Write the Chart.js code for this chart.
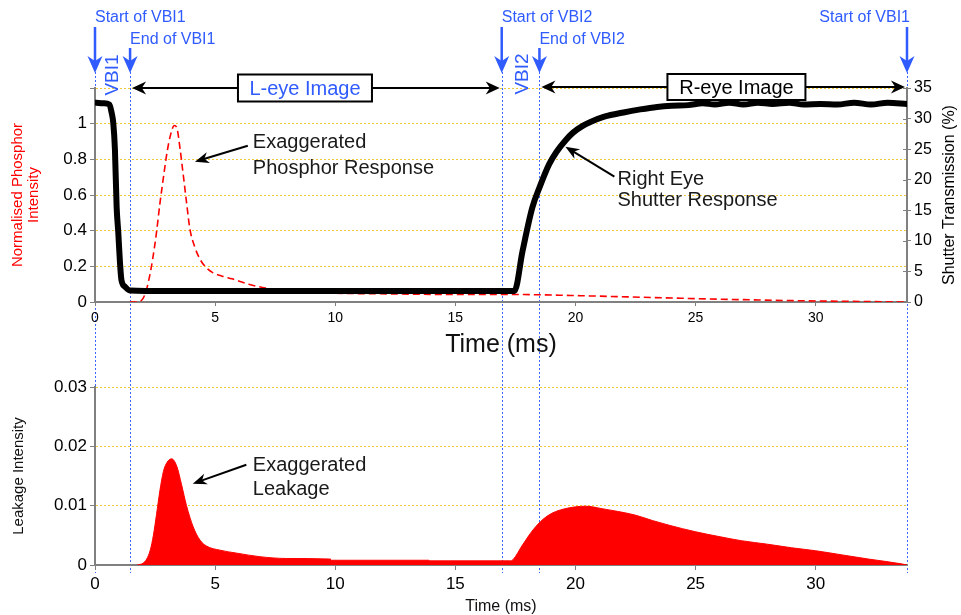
<!DOCTYPE html>
<html>
<head>
<meta charset="utf-8">
<script src="https://cdn.jsdelivr.net/npm/chart.js@4.4.1/dist/chart.umd.min.js"></script>
<style>
  body { margin: 0; background: #fff; }
  #wrap { position: relative; width: 961px; height: 615px; }
  canvas { position: absolute; left: 0; }
</style>
</head>
<body>
<div id="wrap">
  <canvas id="topchart" width="961" height="360" style="top:0"></canvas>
  <canvas id="leakchart" width="961" height="255" style="top:360px"></canvas>
</div>
<script>
// shutter transmission (%), right axis of the top chart
const shutterTime = [0.05, 0.35, 0.6, 0.69, 0.76, 0.83, 0.9, 0.97, 1.04, 1.1, 1.25, 1.45, 3, 6, 9, 12, 15, 17.46,
  17.8, 18.2, 18.5, 18.9, 19.2, 19.6, 19.9, 20.3, 20.6, 21.2, 22.0, 22.7, 23.4, 24.0, 24.7, 25.3, 25.8, 26.4,
  27.0, 27.6, 28.2, 28.9, 29.5, 30.2, 30.9, 31.6, 32.3, 33.0, 33.8]
const shutterPct = [32.6, 32.5, 32.3, 31, 29.3, 24.9, 15.6, 11.3, 6.4, 3.6, 2.5, 1.9, 1.8, 1.8, 1.8, 1.8, 1.8, 1.8,
  8.4, 15.4, 18.7, 22.5, 24.5, 26.5, 27.7, 28.8, 29.4, 30.3, 31.0, 31.5, 31.9, 32.1, 32.2, 32.5, 32.3, 32.6,
  32.3, 32.6, 32.4, 32.6, 32.3, 32.4, 32.3, 32.6, 32.3, 32.6, 32.4]

// normalised phosphor intensity, left axis of the top chart
const phosphorTime = [1.45, 1.7, 1.94, 2.1, 2.25, 2.4, 2.55, 2.7, 2.85, 3.0, 3.15, 3.3, 3.42, 3.53, 3.65, 3.8, 3.95,
  4.15, 4.37, 4.65, 4.9, 5.3, 5.7, 6.4, 7.1, 8.5, 9.9, 12.7, 15.0, 17.4, 20.6, 24.7, 28.9, 33.1, 33.8]
const phosphor = [0, 0, 0.01, 0.05, 0.13, 0.24, 0.38, 0.55, 0.7, 0.84, 0.94, 0.99, 0.97, 0.87, 0.74, 0.57, 0.41,
  0.31, 0.24, 0.19, 0.165, 0.145, 0.13, 0.1, 0.078, 0.06, 0.05, 0.045, 0.042, 0.042, 0.034, 0.02, 0.008, 0.001, 0]

// leakage intensity, bottom chart
const leakTime = [1.75, 2.0, 2.15, 2.3, 2.43, 2.56, 2.7, 2.85, 3.0, 3.19, 3.4, 3.6, 3.81, 4.09, 4.37, 4.64, 5.2, 5.9,
  6.86, 7.97, 9.8, 9.85, 13.9, 13.95, 17.3, 17.4, 17.8, 18.23, 18.65, 19.06, 19.48, 20.0, 20.44, 21.1, 21.8, 22.5,
  23.2, 23.9, 25.0, 25.97, 26.9, 28.0, 29.0, 30.0, 31.1, 32.2, 33.56, 33.8]
const leak = [0, 0.0003, 0.001, 0.0025, 0.005, 0.0085, 0.0125, 0.0158, 0.0173, 0.0179, 0.0167, 0.0136, 0.01, 0.0064,
  0.0042, 0.0032, 0.0025, 0.002, 0.0014, 0.0011, 0.001, 0.0008, 0.0008, 0.0007, 0.0007, 0.0009, 0.0034, 0.0059,
  0.0077, 0.0088, 0.0094, 0.0098, 0.0099, 0.0095, 0.009, 0.0084, 0.0075, 0.0067, 0.0056, 0.0048, 0.0041, 0.0035,
  0.0029, 0.0024, 0.0017, 0.001, 0.0002, 0]

// vertical blanking markers (ms)
const vbiTimes = [0, 1.46, 16.93, 18.5, 33.8]
const vbiLabels = ['Start of VBI1', 'End of VBI1', 'Start of VBI2', 'End of VBI2', 'Start of VBI1']

const FONT = "'Liberation Sans', Arial, sans-serif"
const BLUE = '#2f5bff'
const GRID = '#f0c83a'
const AXIS = '#808080'

Chart.defaults.font.family = FONT
Chart.defaults.color = '#000'

function pts(xs, ys) {
  return xs.map((x, i) => ({ x: x, y: ys[i] }))
}

function arrow(ctx, x1, y1, x2, y2, color, lw, hl, hw) {
  const a = Math.atan2(y2 - y1, x2 - x1)
  ctx.save()
  ctx.strokeStyle = color
  ctx.fillStyle = color
  ctx.lineWidth = lw
  ctx.setLineDash([])
  ctx.beginPath()
  ctx.moveTo(x1, y1)
  ctx.lineTo(x2 - Math.cos(a) * hl * 0.6, y2 - Math.sin(a) * hl * 0.6)
  ctx.stroke()
  ctx.translate(x2, y2)
  ctx.rotate(a)
  ctx.beginPath()
  ctx.moveTo(0, 0)
  ctx.lineTo(-hl, -hw / 2)
  ctx.lineTo(-hl * 0.7, 0)
  ctx.lineTo(-hl, hw / 2)
  ctx.closePath()
  ctx.fill()
  ctx.restore()
}

function text(ctx, str, x, y, size, color, align, rot) {
  ctx.save()
  ctx.font = size + 'px ' + FONT
  ctx.fillStyle = color
  ctx.textAlign = align || 'left'
  ctx.textBaseline = 'middle'
  ctx.translate(x, y)
  if (rot) ctx.rotate(rot)
  ctx.fillText(str, 0, 0)
  ctx.restore()
}

function dottedLines(chart, y1, y2) {
  const ctx = chart.ctx
  const xs = chart.scales.x
  ctx.save()
  ctx.strokeStyle = '#3d66ff'
  ctx.lineWidth = 1
  ctx.setLineDash([2, 2])
  vbiTimes.forEach(t => {
    const px = Math.round(xs.getPixelForValue(t)) + 0.5
    ctx.beginPath()
    ctx.moveTo(px, y1)
    ctx.lineTo(px, y2)
    ctx.stroke()
  })
  ctx.restore()
}

function imageSpan(ctx, xs, from, to, mid, y, str, color, w, h) {
  arrow(ctx, mid, y, xs.getPixelForValue(from) + 2, y, '#000', 2, 14, 13)
  arrow(ctx, mid, y, xs.getPixelForValue(to) - 2, y, '#000', 2, 14, 13)
  ctx.save()
  ctx.fillStyle = '#fff'
  ctx.strokeStyle = '#000'
  ctx.lineWidth = 2
  ctx.fillRect(mid - w / 2, y - h / 2, w, h)
  ctx.strokeRect(mid - w / 2, y - h / 2, w, h)
  ctx.restore()
  text(ctx, str, mid, y + 1, 20, color, 'center')
}

const topNotes = {
  id: 'topNotes',
  beforeDraw(chart) {
    dottedLines(chart, 72, chart.height)
  },
  afterDraw(chart) {
    const ctx = chart.ctx
    const xs = chart.scales.x
    const yl = chart.scales.y
    const yr = chart.scales.y2
    const area = chart.chartArea

    // cross ticks on the right axis
    ctx.save()
    ctx.strokeStyle = AXIS
    ctx.lineWidth = 1
    yr.ticks.forEach(t => {
      const py = Math.round(yr.getPixelForValue(t.value)) + 0.5
      ctx.beginPath()
      ctx.moveTo(area.right - 4, py)
      ctx.lineTo(area.right, py)
      ctx.stroke()
    })
    ctx.restore()

    // VBI markers
    vbiTimes.forEach((t, i) => {
      const px = xs.getPixelForValue(t)
      const isEnd = i === 1 || i === 3
      const ty = isEnd ? 40 : 18
      if (i === 4) text(ctx, vbiLabels[i], px + 3, ty, 16, BLUE, 'right')
      else text(ctx, vbiLabels[i], px, ty, 16, BLUE, 'left')
      arrow(ctx, px, isEnd ? 48 : 27, px, 73, BLUE, 2.5, 17, 15)
    })
    text(ctx, 'VBI1', xs.getPixelForValue((vbiTimes[0] + vbiTimes[1]) / 2), 75, 19, BLUE, 'center', -Math.PI / 2)
    text(ctx, 'VBI2', xs.getPixelForValue((vbiTimes[2] + vbiTimes[3]) / 2) + 2, 74, 19, BLUE, 'center', -Math.PI / 2)

    // image periods
    imageSpan(ctx, xs, vbiTimes[1], vbiTimes[2], xs.getPixelForValue(8.74), area.top, 'L-eye Image', BLUE, 134, 27)
    imageSpan(ctx, xs, vbiTimes[3], vbiTimes[4], xs.getPixelForValue(26.7), area.top - 1, 'R-eye Image', '#000', 138, 26)

    // callouts
    text(ctx, 'Exaggerated', xs.getPixelForValue(6.57), yl.getPixelForValue(0.893), 20, '#1a1a1a')
    text(ctx, 'Phosphor Response', xs.getPixelForValue(6.57), yl.getPixelForValue(0.75), 20, '#1a1a1a')
    arrow(ctx, xs.getPixelForValue(6.36), yl.getPixelForValue(0.876), xs.getPixelForValue(4.16), yl.getPixelForValue(0.787), '#000', 2, 14, 11)

    text(ctx, 'Right Eye', xs.getPixelForValue(21.75), yr.getPixelForValue(20.0), 20, '#1a1a1a')
    text(ctx, 'Shutter Response', xs.getPixelForValue(21.75), yr.getPixelForValue(16.6), 20, '#1a1a1a')
    arrow(ctx, xs.getPixelForValue(21.62), yr.getPixelForValue(20.5), xs.getPixelForValue(19.58), yr.getPixelForValue(25.4), '#000', 2, 14, 11)

    // right axis title, reads bottom to top
    text(ctx, 'Shutter Transmission (%)', 950, (area.top + area.bottom) / 2, 16, '#000', 'center', -Math.PI / 2)
  }
}

const leakNotes = {
  id: 'leakNotes',
  beforeDraw(chart) {
    dottedLines(chart, 0, chart.chartArea.bottom + 8)
  },
  afterDraw(chart) {
    const ctx = chart.ctx
    const xs = chart.scales.x
    const ys = chart.scales.y
    text(ctx, 'Exaggerated', xs.getPixelForValue(6.57), ys.getPixelForValue(0.0167), 20, '#1a1a1a')
    text(ctx, 'Leakage', xs.getPixelForValue(6.57), ys.getPixelForValue(0.0127), 20, '#1a1a1a')
    arrow(ctx, xs.getPixelForValue(6.3), ys.getPixelForValue(0.0169), xs.getPixelForValue(4.07), ys.getPixelForValue(0.0137), '#000', 2, 14, 11)
  }
}

function gridColor(c) {
  return c.tick.value === 0 ? 'rgba(0,0,0,0)' : GRID
}

new Chart(document.getElementById('topchart'), {
  type: 'line',
  data: {
    datasets: [{
      label: 'Shutter',
      data: pts(shutterTime, shutterPct),
      yAxisID: 'y2',
      borderColor: '#000',
      borderWidth: 6,
      pointRadius: 0,
      cubicInterpolationMode: 'monotone',
      borderJoinStyle: 'round',
      borderCapStyle: 'round'
    }, {
      label: 'Phosphor',
      data: pts(phosphorTime, phosphor),
      yAxisID: 'y',
      borderColor: '#ff0000',
      borderWidth: 1.6,
      borderDash: [7, 4],
      pointRadius: 0,
      cubicInterpolationMode: 'monotone'
    }]
  },
  options: {
    responsive: false,
    animation: false,
    devicePixelRatio: 1,
    layout: { padding: { top: 88, left: 0, right: 0, bottom: 0 } },
    plugins: { legend: { display: false }, tooltip: { enabled: false } },
    scales: {
      x: {
        type: 'linear', min: 0, max: 33.8,
        afterFit: s => { s.height = 58 },
        ticks: { stepSize: 5, includeBounds: false, maxRotation: 0, padding: 4, font: { size: 14 }, callback: v => String(Math.round(v)) },
        grid: { drawOnChartArea: false, tickLength: 4, color: AXIS },
        border: { color: AXIS, width: 2 },
        title: { display: true, text: 'Time (ms)', font: { size: 25 }, color: '#111', padding: 0 }
      },
      y: {
        position: 'left', min: 0, max: 1.2,
        afterFit: s => { s.width = 95 },
        ticks: { stepSize: 0.2, font: { size: 17 }, callback: v => v > 1.1 ? '' : String(Math.round(v * 10) / 10) },
        grid: { color: gridColor, tickColor: AXIS, tickLength: 5 },
        border: { color: AXIS, width: 2, dash: [2, 2] },
        title: {
          display: true, text: ['Normalised Phosphor', 'Intensity'], color: '#ff0000',
          font: { size: 15, lineHeight: 1.07 }, padding: { top: 9.5 }
        }
      },
      y2: {
        position: 'right', min: 0, max: 35,
        afterFit: s => { s.width = 54 },
        ticks: { stepSize: 5, font: { size: 16 }, callback: v => String(Math.round(v)) },
        grid: { drawOnChartArea: false, tickLength: 4, color: AXIS },
        border: { color: AXIS, width: 2 }
      }
    }
  },
  plugins: [topNotes]
})

new Chart(document.getElementById('leakchart'), {
  type: 'line',
  data: {
    datasets: [{
      label: 'Leakage',
      data: pts(leakTime, leak),
      borderColor: '#ff0000',
      backgroundColor: '#ff0000',
      borderWidth: 1,
      pointRadius: 0,
      fill: 'origin',
      cubicInterpolationMode: 'monotone'
    }]
  },
  options: {
    responsive: false,
    animation: false,
    devicePixelRatio: 1,
    layout: { padding: { top: 27, left: 0, right: 54, bottom: 0 } },
    plugins: { legend: { display: false }, tooltip: { enabled: false } },
    scales: {
      x: {
        type: 'linear', min: 0, max: 33.8,
        afterFit: s => { s.height = 50 },
        ticks: { stepSize: 5, includeBounds: false, maxRotation: 0, padding: 4, font: { size: 17 }, callback: v => String(Math.round(v)) },
        grid: { drawOnChartArea: false, tickLength: 5, color: AXIS },
        border: { color: AXIS, width: 2 },
        title: { display: true, text: 'Time (ms)', font: { size: 16, lineHeight: 1 }, color: '#111', padding: 0 }
      },
      y: {
        min: 0, max: 0.03,
        afterFit: s => { s.width = 95 },
        ticks: { stepSize: 0.01, font: { size: 17 }, callback: v => String(Math.round(v * 100) / 100) },
        grid: { color: gridColor, tickColor: AXIS, tickLength: 5 },
        border: { color: AXIS, width: 2, dash: [2, 2] },
        title: { display: true, text: 'Leakage Intensity', font: { size: 15 }, color: '#111', padding: { top: 10 } }
      }
    }
  },
  plugins: [leakNotes]
})
</script>
</body>
</html>
